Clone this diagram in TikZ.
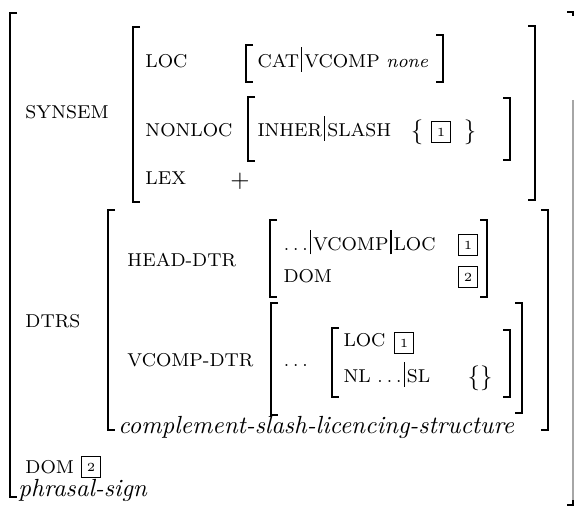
\documentclass[tikz,border=0pt]{standalone}
\newcommand\vb{\kern0.8pt\rule[-1.6pt]{0.45pt}{10pt}\kern0.8pt}
\newcommand\brL[3]{\draw[brk] (#1+7,#2) -- (#1,#2) -- (#1,#3) -- (#1+7,#3);}
\newcommand\brR[3]{\draw[brk] (#1-7,#2) -- (#1,#2) -- (#1,#3) -- (#1-7,#3);}
\begin{document}
\begin{tikzpicture}[x=0.4032pt,y=-0.4032pt,
  lab/.style={font=\fontsize{7.5}{9}\selectfont, inner sep=0pt, anchor=base west},
  itx/.style={font=\itshape, inner sep=0pt, anchor=base west},
  sym/.style={inner sep=0pt},
  tag/.style={draw, line width=0.4pt, minimum width=8pt, minimum height=8.6pt, inner sep=0pt, font=\tiny},
  brk/.style={line width=0.7pt}]
\useasboundingbox (0,0) rectangle (575,511);
% brackets
\brL{10}{13}{497}
\draw[brk, black!35] (573,100) -- (573,505);
\draw[brk] (567,12) -- (573,12) -- (573,16);
\draw[brk] (567,505) -- (573,505) -- (573,500);
\brL{133}{27}{202}
\brR{535}{26}{200}
\brL{246}{45}{82}
\brR{443}{35}{82}
\brL{248}{97}{161}
\brR{510}{98}{160}
\brL{108}{210}{430}
\brR{548}{210}{430}
\brL{270}{220}{297}
\brR{487}{220}{297}
\brL{271}{303}{415}
\brR{522}{303}{413}
\brL{332}{328}{397}
\brR{510}{330}{397}
% text
\node[lab] (synsem) at (25,119) {SYNSEM};
\node[lab] (loc) at (145,68) {LOC};
\node[lab] (catv) at (257,68) {CAT\vb VCOMP \textit{none}};
\node[lab] (nonloc) at (145,137) {NONLOC};
\node[lab] (inher) at (257,137) {INHER\vb SLASH};
\node[sym] (lbrace) at (417,132) {$\{$};
\node[tag] (t1a) at (441,132) {1};
\node[sym] (rbrace) at (470,132) {$\}$};
\node[lab] (lex) at (145,185) {LEX};
\node[sym] (plus) at (240,181) {$+$};
\node[lab] (dtrs) at (25,328) {DTRS};
\node[lab] (hd) at (127,267) {HEAD-DTR};
\node[lab] (hdpath) at (283,250.5) {$\ldots$\vb VCOMP\vb LOC};
\node[tag] (t1b) at (468,245) {1};
\node[lab] (hddom) at (283,282.5) {DOM};
\node[tag] (t2a) at (468,277) {2};
\node[lab] (vd) at (127,367) {VCOMP-DTR};
\node[lab] (vdots) at (283,367) {$\ldots$};
\node[lab] (iloc) at (343,347) {LOC};
\node[tag] (t1c) at (404,343) {1};
\node[lab] (nl) at (343,383) {NL $\ldots$\vb SL};
\node[sym] (emp) at (480,378) {$\{\}$};
\node[itx] (cslc) at (118,434) {complement-slash-licencing-structure};
\node[lab] (dom) at (25,473) {DOM};
\node[tag] (t2b) at (91,467) {2};
\node[itx] (ps) at (18,496) {phrasal-sign};
\end{tikzpicture}
\end{document}
